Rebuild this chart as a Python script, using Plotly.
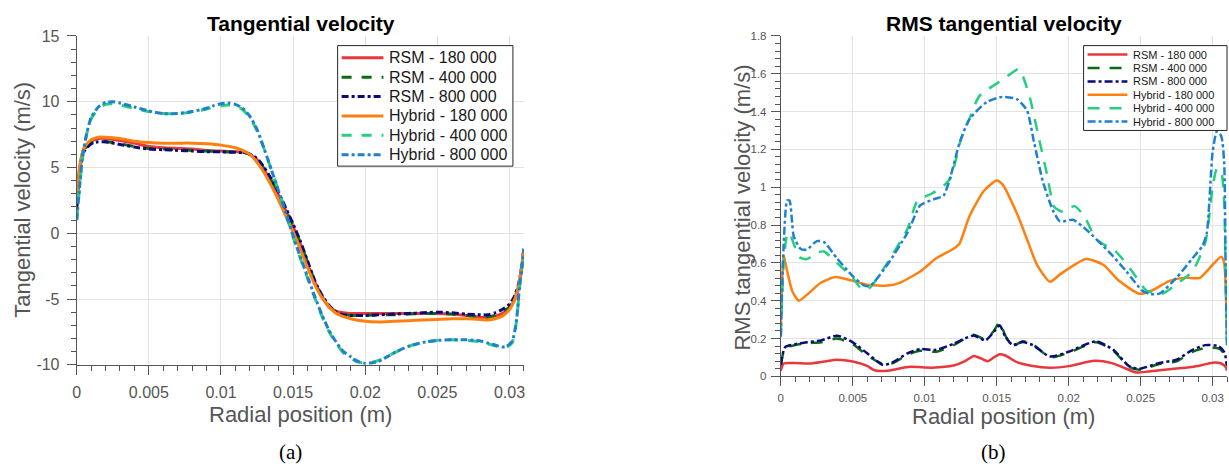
import plotly.graph_objects as go

# ---------------- Data: (a) Tangential velocity ----------------
r_rsm_a = [0, 0.0002, 0.0005, 0.001, 0.0015, 0.002, 0.003, 0.004, 0.005, 0.006,
           0.007, 0.008, 0.009, 0.010, 0.011, 0.0118, 0.0125, 0.013, 0.0135, 0.014,
           0.0145, 0.015, 0.0155, 0.016, 0.0165, 0.017, 0.0175, 0.018, 0.0185, 0.019,
           0.020, 0.021, 0.022, 0.023, 0.024, 0.025, 0.026, 0.027, 0.028,
           0.0285, 0.029, 0.0295, 0.030, 0.0303, 0.0306, 0.0308, 0.031]
vt_rsm_180 = [2.5, 5.0, 6.4, 7.0, 7.2, 7.2, 7.05, 6.85, 6.6, 6.5,
              6.45, 6.4, 6.3, 6.25, 6.2, 6.1, 5.6, 4.8, 3.9, 2.9,
              1.7, 0.5, -0.8, -2.3, -3.7, -4.8, -5.6, -5.95, -6.05, -6.1,
              -6.1, -6.1, -6.1, -6.1, -6.1, -6.1, -6.15, -6.25, -6.4,
              -6.4, -6.3, -6.1, -5.7, -5.2, -4.3, -3.0, -1.2]
vt_rsm_400 = [2.0, 4.7, 6.3, 6.85, 6.95, 6.95, 6.8, 6.6, 6.45, 6.4,
              6.35, 6.3, 6.25, 6.2, 6.15, 6.1, 5.65, 4.9, 4.0, 3.0,
              1.8, 0.6, -0.7, -2.2, -3.6, -4.8, -5.6, -6.0, -6.2, -6.25,
              -6.25, -6.2, -6.2, -6.15, -6.1, -6.1, -6.15, -6.25, -6.35,
              -6.35, -6.25, -6.0, -5.6, -5.0, -4.2, -3.0, -1.2]
vt_rsm_800 = [1.8, 4.6, 6.2, 6.8, 6.95, 6.95, 6.75, 6.55, 6.4, 6.35,
              6.3, 6.25, 6.2, 6.2, 6.15, 6.1, 5.7, 5.0, 4.1, 3.1,
              1.9, 0.7, -0.6, -2.1, -3.6, -4.7, -5.5, -6.0, -6.2, -6.25,
              -6.25, -6.2, -6.15, -6.1, -6.05, -6.0, -6.05, -6.15, -6.2,
              -6.2, -6.05, -5.8, -5.4, -4.9, -4.0, -2.9, -1.2]

r_hyb180_a = [0, 0.0002, 0.0005, 0.001, 0.0015, 0.002, 0.003, 0.004, 0.005, 0.006,
              0.007, 0.008, 0.009, 0.010, 0.011, 0.0115, 0.012, 0.0125, 0.013, 0.0135,
              0.014, 0.0145, 0.015, 0.0155, 0.016, 0.0165, 0.017, 0.0175, 0.018, 0.019,
              0.020, 0.021, 0.022, 0.023, 0.024, 0.025, 0.026, 0.027, 0.028,
              0.0285, 0.029, 0.0295, 0.030, 0.0303, 0.0306, 0.0308, 0.031]
vt_hyb_180 = [2.4, 4.9, 6.5, 7.1, 7.3, 7.3, 7.2, 7.0, 6.9, 6.85,
              6.85, 6.85, 6.8, 6.7, 6.5, 6.3, 6.0, 5.4, 4.6, 3.6,
              2.5, 1.3, 0.1, -1.2, -2.6, -3.9, -4.9, -5.6, -6.1, -6.5,
              -6.7, -6.75, -6.7, -6.65, -6.6, -6.55, -6.5, -6.5, -6.55,
              -6.6, -6.5, -6.3, -5.8, -5.2, -4.2, -2.9, -1.2]

r_hyb_a = [0, 0.0002, 0.0004, 0.0007, 0.001, 0.0015, 0.002, 0.0025, 0.003, 0.004,
           0.005, 0.006, 0.007, 0.008, 0.009, 0.0095, 0.010, 0.0105, 0.011, 0.0115,
           0.012, 0.0125, 0.013, 0.0135, 0.014, 0.0145, 0.015, 0.0155, 0.016, 0.0165,
           0.017, 0.0175, 0.018, 0.0185, 0.019, 0.0195, 0.020, 0.0205, 0.021, 0.022,
           0.023, 0.024, 0.025, 0.026, 0.027, 0.028, 0.0285, 0.029, 0.0295, 0.0298,
           0.0302, 0.0305, 0.0307, 0.0309, 0.031]
vt_hyb_400 = [1.0, 3.5, 5.8, 7.6, 8.7, 9.45, 9.8, 9.85, 9.75, 9.5,
              9.25, 9.1, 9.1, 9.2, 9.45, 9.6, 9.7, 9.75, 9.7, 9.4,
              8.8, 7.8, 6.4, 4.8, 3.2, 1.5, -0.3, -1.9, -3.4, -4.9,
              -6.3, -7.5, -8.4, -9.1, -9.5, -9.8, -9.85, -9.8, -9.65, -9.1,
              -8.6, -8.3, -8.15, -8.1, -8.15, -8.25, -8.4, -8.55, -8.7, -8.65,
              -8.3, -6.6, -4.1, -2.3, -1.2]
vt_hyb_800 = [1.0, 3.5, 5.8, 7.6, 8.8, 9.6, 9.95, 10.0, 9.9, 9.6,
              9.3, 9.1, 9.1, 9.25, 9.5, 9.7, 9.85, 9.9, 9.8, 9.5,
              8.9, 7.9, 6.4, 4.8, 3.2, 1.5, -0.2, -1.8, -3.3, -4.8,
              -6.2, -7.4, -8.3, -9.0, -9.4, -9.75, -9.9, -9.85, -9.7, -9.1,
              -8.6, -8.3, -8.15, -8.1, -8.1, -8.2, -8.35, -8.5, -8.65, -8.6,
              -8.2, -6.5, -4.0, -2.2, -1.2]

# ---------------- Data: (b) RMS tangential velocity ----------------
r_rsm180_b = [0, 0.0002, 0.001, 0.002, 0.003, 0.0039, 0.005, 0.006, 0.0065, 0.0074,
              0.008, 0.009, 0.0105, 0.012, 0.0128, 0.0134, 0.0139, 0.0144, 0.0148, 0.0152,
              0.0156, 0.0164, 0.0175, 0.0187, 0.020, 0.0218, 0.023, 0.024, 0.0247, 0.0255,
              0.0265, 0.0281, 0.029, 0.030, 0.0306, 0.0309, 0.031]
rms_rsm_180 = [0.03, 0.068, 0.07, 0.068, 0.078, 0.088, 0.078, 0.055, 0.032, 0.03,
               0.038, 0.05, 0.046, 0.057, 0.08, 0.108, 0.095, 0.08, 0.1, 0.117,
               0.11, 0.075, 0.055, 0.046, 0.054, 0.082, 0.07, 0.04, 0.02, 0.025,
               0.034, 0.046, 0.055, 0.072, 0.068, 0.05, 0.03]

r_rsm_b = [0, 0.0003, 0.001, 0.0018, 0.0028, 0.0039, 0.005, 0.006, 0.0071, 0.0078,
           0.0088, 0.0097, 0.0108, 0.012, 0.0134, 0.0142, 0.0148, 0.0152, 0.0156, 0.0161,
           0.0168, 0.0175, 0.0187, 0.020, 0.0219, 0.0231, 0.0242, 0.0249, 0.0263, 0.0275,
           0.0286, 0.0295, 0.0304, 0.0308, 0.031]
rms_rsm_400 = [0.06, 0.15, 0.165, 0.175, 0.18, 0.2, 0.17, 0.11, 0.065, 0.07,
               0.115, 0.135, 0.13, 0.165, 0.22, 0.195, 0.24, 0.285, 0.215, 0.16,
               0.185, 0.17, 0.1, 0.125, 0.18, 0.135, 0.05, 0.035, 0.065, 0.08,
               0.13, 0.15, 0.148, 0.12, 0.055]
rms_rsm_800 = [0.06, 0.155, 0.17, 0.18, 0.19, 0.215, 0.18, 0.122, 0.06, 0.075,
               0.122, 0.144, 0.14, 0.172, 0.216, 0.19, 0.235, 0.27, 0.21, 0.165,
               0.182, 0.165, 0.105, 0.13, 0.185, 0.14, 0.054, 0.04, 0.071, 0.088,
               0.14, 0.165, 0.16, 0.13, 0.06]

r_hyb180_b = [0, 0.0002, 0.0004, 0.0008, 0.00125, 0.0019, 0.0028, 0.0038, 0.005, 0.006,
              0.0074, 0.0083, 0.0097, 0.0108, 0.012, 0.0124, 0.0131, 0.0141, 0.0150, 0.0154,
              0.0164, 0.0171, 0.0178, 0.0187, 0.0194, 0.0212, 0.0224, 0.0235, 0.0249, 0.0258,
              0.027, 0.0281, 0.0291, 0.030, 0.0306, 0.0308, 0.031]
rms_hyb_180 = [0.27, 0.64, 0.57, 0.45, 0.4, 0.437, 0.496, 0.525, 0.505, 0.485,
               0.48, 0.496, 0.556, 0.624, 0.675, 0.7, 0.845, 0.98, 1.036, 1.015,
               0.862, 0.726, 0.59, 0.5, 0.539, 0.62, 0.59, 0.505, 0.437, 0.454,
               0.505, 0.522, 0.52, 0.59, 0.633, 0.6, 0.2]

r_hyb400_b = [0, 0.0002, 0.00044, 0.0006, 0.0009, 0.0013, 0.0018, 0.0025, 0.003, 0.0039,
              0.005, 0.0057, 0.0062, 0.0074, 0.0088, 0.0095, 0.0105, 0.0112, 0.0118, 0.0125,
              0.0131, 0.0138, 0.0154, 0.0165, 0.0167, 0.0173, 0.0179, 0.0185, 0.019, 0.0196,
              0.0204, 0.0211, 0.0219, 0.0233, 0.0244, 0.0254, 0.0265, 0.0275, 0.0286, 0.0295,
              0.030, 0.0303, 0.0306, 0.0308, 0.0309, 0.031]
rms_hyb_400 = [0.21, 0.6, 0.75, 0.76, 0.7, 0.63, 0.62, 0.655, 0.66, 0.6,
               0.52, 0.455, 0.47, 0.6, 0.78, 0.93, 0.967, 1.0, 1.05, 1.25,
               1.36, 1.483, 1.568, 1.625, 1.61, 1.474, 1.27, 1.066, 0.896, 0.87,
               0.9, 0.845, 0.726, 0.658, 0.556, 0.454, 0.437, 0.488, 0.556, 0.709,
               0.998, 1.1, 1.08, 0.93, 0.55, 0.15]

r_hyb800_b = [0, 0.0002, 0.00044, 0.0006, 0.0008, 0.0009, 0.00136, 0.0018, 0.0025, 0.003,
              0.0039, 0.005, 0.0058, 0.0062, 0.0074, 0.0088, 0.0097, 0.0106, 0.0113, 0.0118,
              0.0124, 0.0131, 0.0143, 0.0154, 0.0164, 0.0171, 0.0176, 0.0182, 0.0189, 0.0194,
              0.0203, 0.0212, 0.0228, 0.024, 0.0251, 0.0256, 0.0263, 0.0275, 0.0286, 0.0293,
              0.0296, 0.030, 0.0303, 0.0306, 0.0308, 0.0309, 0.031]
rms_hyb_800 = [0.21, 0.7, 0.93, 0.93, 0.8, 0.74, 0.675, 0.67, 0.715, 0.71,
               0.624, 0.53, 0.48, 0.478, 0.59, 0.76, 0.905, 0.935, 0.955, 1.06,
               1.23, 1.36, 1.45, 1.478, 1.466, 1.406, 1.236, 1.032, 0.879, 0.819,
               0.828, 0.777, 0.658, 0.556, 0.454, 0.437, 0.437, 0.522, 0.624, 0.69,
               0.76, 1.185, 1.296, 1.27, 1.134, 0.6, 0.15]

series_names = ["RSM - 180 000", "RSM - 400 000", "RSM - 800 000",
                "Hybrid - 180 000", "Hybrid - 400 000", "Hybrid - 800 000"]

x_tickvals = [0, 0.005, 0.01, 0.015, 0.02, 0.025, 0.03]
x_ticktext = ["0", "0.005", "0.01", "0.015", "0.02", "0.025", "0.03"]
ya_tickvals = [-10, -5, 0, 5, 10, 15]
ya_ticktext = ["-10", "-5", "0", "5", "10", "15"]
yb_tickvals = [0, 0.2, 0.4, 0.6, 0.8, 1.0, 1.2, 1.4, 1.6, 1.8]
yb_ticktext = ["0", "0.2", "0.4", "0.6", "0.8", "1", "1.2", "1.4", "1.6", "1.8"]

# ---------------- Styles ----------------
colors = ["#e8383d", "#0b6b14", "#0a0a7a", "#ff8010", "#25cf80", "#1f80d0"]
dash_a = ["solid", "10px,10px", "7px,3px,3px,3px", "solid", "10px,10px", "7px,3px,3px,3px"]
dash_b = ["solid", "12px,10px", "8px,3px,3px,3px", "solid", "12px,10px", "8px,3px,3px,3px"]
width_a, width_b = 3, 2.5

fig = go.Figure()

data_a = [(r_rsm_a, vt_rsm_180), (r_rsm_a, vt_rsm_400), (r_rsm_a, vt_rsm_800),
          (r_hyb180_a, vt_hyb_180), (r_hyb_a, vt_hyb_400), (r_hyb_a, vt_hyb_800)]
data_b = [(r_rsm180_b, rms_rsm_180), (r_rsm_b, rms_rsm_400), (r_rsm_b, rms_rsm_800),
          (r_hyb180_b, rms_hyb_180), (r_hyb400_b, rms_hyb_400), (r_hyb800_b, rms_hyb_800)]

for i, (xs, ys) in enumerate(data_a):
    fig.add_trace(go.Scatter(x=xs, y=ys, mode="lines", name=series_names[i],
                             line=dict(color=colors[i], width=width_a, dash=dash_a[i],
                                       shape="spline", smoothing=0.6),
                             xaxis="x", yaxis="y", showlegend=False))
for i, (xs, ys) in enumerate(data_b):
    fig.add_trace(go.Scatter(x=xs, y=ys, mode="lines", name=series_names[i],
                             line=dict(color=colors[i], width=width_b, dash=dash_b[i],
                                       shape="spline", smoothing=0.6),
                             xaxis="x2", yaxis="y2", showlegend=False))

W, H = 1229, 475
tick_col = "#555555"
grid_col = "#e3e3e3"


def px_x(p):
    return p / W


def px_y(p):
    return (H - p) / H


common_axis = dict(showline=True, linecolor=tick_col, linewidth=1, ticks="outside",
                   tickcolor=tick_col, showgrid=True, gridcolor=grid_col, gridwidth=1,
                   zeroline=False, tickmode="array")

fig.update_layout(
    width=W, height=H, margin=dict(l=0, r=0, t=0, b=0),
    paper_bgcolor="white", plot_bgcolor="white", showlegend=False,
    font=dict(family="Arial, Liberation Sans, sans-serif", color=tick_col),
    xaxis=dict(domain=[px_x(73), px_x(522)], anchor="y", range=[0, 0.031],
               tickvals=x_tickvals, ticktext=x_ticktext, ticklen=9,
               tickfont=dict(size=16, color=tick_col), ticklabelstandoff=4,
               minor=dict(ticks="outside", ticklen=5, tickcolor=tick_col, dtick=0.001,
                          tick0=0, showgrid=False),
               **common_axis),
    yaxis=dict(domain=[px_y(370), px_y(29)], anchor="x", range=[-10, 15],
               tickvals=ya_tickvals, ticktext=ya_ticktext, ticklen=9,
               tickfont=dict(size=16, color=tick_col), ticklabelstandoff=4,
               minor=dict(ticks="outside", ticklen=5, tickcolor=tick_col, dtick=1,
                          tick0=0, showgrid=False),
               **common_axis),
    xaxis2=dict(domain=[px_x(780), px_x(1228)], anchor="y2", range=[0, 0.031],
                tickvals=x_tickvals, ticktext=x_ticktext, ticklen=9,
                tickfont=dict(size=11.5, color=tick_col), ticklabelstandoff=2,
                minor=dict(ticks="outside", ticklen=5, tickcolor=tick_col, dtick=0.001,
                           tick0=0, showgrid=False),
                **common_axis),
    yaxis2=dict(domain=[px_y(382), px_y(29)], anchor="x2", range=[0, 1.8],
                tickvals=yb_tickvals, ticktext=yb_ticktext, ticklen=9,
                tickfont=dict(size=11.5, color=tick_col), ticklabelstandoff=2,
                minor=dict(ticks="outside", ticklen=5, tickcolor=tick_col, dtick=0.04,
                           tick0=0, showgrid=False),
                **common_axis),
)

# ---------------- Legends (box, line samples, labels) ----------------
legend_specs = [
    # box left, top, right, bottom, first row y, row step, sample x0, x1, text x, font, dashes, width
    dict(box=(335, 39, 511, 164), row0=51.7, step=20.1, sx=(339, 381), tx=385,
         size=16, dashes=dash_a, width=width_a),
    dict(box=(1084, 39, 1228, 127), row0=48.3, step=13.9, sx=(1088, 1128), tx=1132,
         size=11, dashes=dash_b, width=width_b),
]
for spec in legend_specs:
    l, t, r, b = spec["box"]
    fig.add_shape(type="rect", xref="paper", yref="paper",
                  x0=px_x(l), x1=px_x(r), y0=px_y(b), y1=px_y(t),
                  line=dict(color="#262626", width=1), fillcolor="white", layer="above")
    for i, name in enumerate(series_names):
        yy = spec["row0"] + i * spec["step"]
        fig.add_shape(type="line", xref="paper", yref="paper",
                      x0=px_x(spec["sx"][0]), x1=px_x(spec["sx"][1]),
                      y0=px_y(yy), y1=px_y(yy),
                      line=dict(color=colors[i], width=spec["width"], dash=spec["dashes"][i]),
                      layer="above")
        fig.add_annotation(text=name, xref="paper", yref="paper", showarrow=False,
                           x=px_x(spec["tx"]), y=px_y(yy), xanchor="left", yanchor="middle",
                           font=dict(size=spec["size"], color="#1a1a1a"))

annots = [
    dict(text="<b>Tangential velocity</b>", x=px_x(298), y=px_y(16),
         font=dict(size=21, color="#000000")),
    dict(text="<b>RMS tangential velocity</b>", x=px_x(1004), y=px_y(16),
         font=dict(size=21, color="#000000")),
    dict(text="Radial position (m)", x=px_x(298), y=px_y(422),
         font=dict(size=22, color=tick_col)),
    dict(text="Radial position (m)", x=px_x(1004), y=px_y(424),
         font=dict(size=22, color=tick_col)),
    dict(text="Tangential velocity (m/s)", x=px_x(19), y=px_y(199), textangle=-90,
         font=dict(size=22, color=tick_col)),
    dict(text="RMS tangential velocity (m/s)", x=px_x(742), y=px_y(207), textangle=-90,
         font=dict(size=22, color=tick_col)),
    dict(text="(a)", x=px_x(288), y=px_y(460),
         font=dict(size=21, color="#000000", family="Liberation Serif, Times New Roman, serif")),
    dict(text="(b)", x=px_x(994), y=px_y(460),
         font=dict(size=21, color="#000000", family="Liberation Serif, Times New Roman, serif")),
]
for a in annots:
    fig.add_annotation(xref="paper", yref="paper", showarrow=False,
                       xanchor="center", yanchor="middle", **a)

fig.write_html("out.html")
